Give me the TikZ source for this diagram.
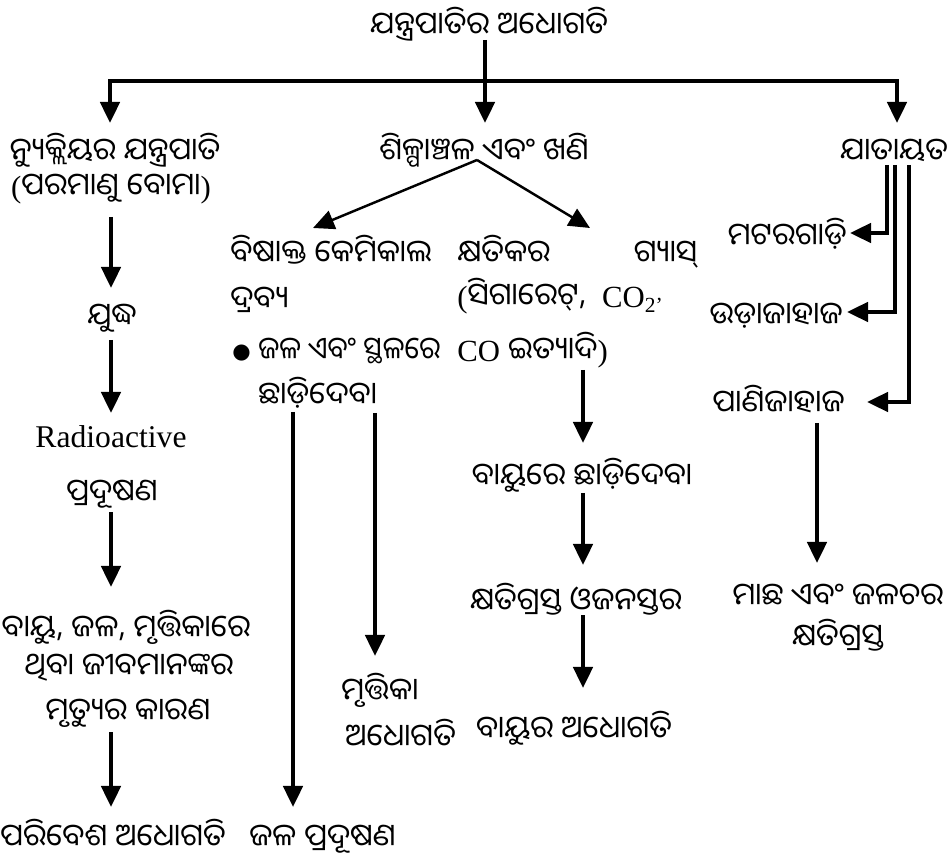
\documentclass[tikz,border=0pt]{standalone}
\usepackage{fontspec}
\usepackage{graphicx}
\setmainfont{Liberation Serif}
\newfontfamily\od[Script=Oriya]{Noto Sans Oriya UI}
\newfontfamily\symf{DejaVu Sans}
\usetikzlibrary{arrows.meta,calc}
\begin{document}
\begin{tikzpicture}[x=0.02cm,y=-0.02cm,
  txt/.style={font=\od\fontsize{17.5}{20}\selectfont, inner sep=0pt, anchor=base},
  txtw/.style={txt, anchor=base west},
  txte/.style={txt, anchor=base east},
  lat/.style={font=\fontsize{18}{20}\selectfont, inner sep=0pt, anchor=base},
  tip/.style={-{Triangle[width=11pt,length=12pt]}},
  arr/.style={line width=2.2pt, tip},
  varr/.style={line width=1.4pt, tip},
  ln/.style={line width=2.2pt}]
\useasboundingbox (0,0) rectangle (949,857);
% columns / hub coordinates
\coordinate (hubM) at (485,81);
\coordinate (hubL) at (110,81);
\coordinate (hubR) at (897,81);
\coordinate (cL) at (111,0);
\coordinate (cM) at (583,0);
\coordinate (cJ) at (293,0);
\coordinate (cS) at (375,0);
\coordinate (r1) at (887,0);
\coordinate (r2) at (895,0);
\coordinate (r3) at (909,0);
\coordinate (r4) at (817,0);
% nodes
\node[txt] (title) at (489,37) {ଯନ୍ତ୍ରପାତିର ଅଧୋଗତି};
\node[txt] (nuc) at (115,163) {ନ୍ୟୁକ୍ଲିୟର ଯନ୍ତ୍ରପାତି};
\node[txt] (ind) at (484,163) {ଶିଳ୍ପାଞ୍ଚଳ ଏବଂ ଖଣି};
\node[txt] (tra) at (894,163) {ଯାତାୟତ};
\node[txt] (bomb) at (111,198) {{\rmfamily(}ପରମାଣୁ ବୋମା{\rmfamily)}};
\node[txt] (yud) at (112,328) {ଯୁଦ୍ଧ};
\node[lat] (radio) at (111,448) {Radioactive};
\node[txt] (prad) at (112,503) {ପ୍ରଦୂଷଣ};
\node[txt] (bayu1) at (126,639) {ବାୟୁ, ଜଳ, ମୃତ୍ତିକାରେ};
\node[txt] (thiba) at (129,677) {ଥିବା ଜୀବମାନଙ୍କର};
\node[txt] (mrit) at (128,722) {ମୃତ୍ୟୁର କାରଣ};
\node[txt] (pari) at (113,848) {ପରିବେଶ ଅଧୋଗତି};
\node[txtw] (bis) at (230,265) {ବିଷାକ୍ତ କେମିକାଲ};
\node[txtw] (drab) at (230,311) {ଦ୍ରବ୍ୟ};
\node[txtw] (bul) at (232,362) {{\symf\fontsize{12}{12}\selectfont\raisebox{0.3ex}{●}}\hspace{0.25em}\scalebox{0.91}[1]{ଜଳ ଏବଂ ସ୍ଥଳରେ}};
\node[txtw] (chh) at (258,407) {ଛାଡ଼ିଦେବା};
\node[txtw] (mrd) at (341,702) {ମୃତ୍ତିକା};
\node[txtw] (adh) at (345,748) {ଅଧୋଗତି};
\node[txtw] (jal) at (249,848) {ଜଳ ପ୍ରଦୂଷଣ};
\node[txtw] (khy) at (457,265) {\makebox[4.8cm][s]{କ୍ଷତିକର ଗ୍ୟାସ୍}};
\node[txtw] (sig) at (457,308) {{\rmfamily(}ସିଗାରେଟ୍, \ {\rmfamily CO\textsubscript{2’}}};
\node[txtw] (co) at (457,362) {{\rmfamily CO} ଇତ୍ୟାଦି{\rmfamily)}};
\node[txt] (bre) at (582,487) {ବାୟୁରେ ଛାଡ଼ିଦେବା};
\node[txt] (oz) at (576,612) {କ୍ଷତିଗ୍ରସ୍ତ ଓଜନସ୍ତର};
\node[txt] (bad) at (574,740) {ବାୟୁର ଅଧୋଗତି};
\node[txte] (mot) at (847,248) {ମଟରଗାଡ଼ି};
\node[txte] (uda) at (843,327) {ଉଡ଼ାଜାହାଜ};
\node[txte] (pan) at (845,415) {ପାଣିଜାହାଜ};
\node[txt] (mac) at (838,607) {ମାଛ ଏବଂ ଜଳଚର};
\node[txt] (kg) at (838,648) {କ୍ଷତିଗ୍ରସ୍ତ};
% top tree
\draw[arr] ($(title.base -| hubM)+(0,3)$) -- ($(ind.base -| hubM)+(0,-40)$);
\draw[arr, line join=miter] (hubM) -- (hubL) -- ($(nuc.base -| hubL)+(0,-40)$);
\draw[arr, line join=miter] (hubM) -- (hubR) -- ($(tra.base -| hubR)+(0,-40)$);
% left column
\draw[arr] ($(bomb.base -| cL)+(0,19)$) -- ($(yud.base -| cL)+(0,-40)$);
\draw[arr] ($(yud.base -| cL)+(0,12)$) -- ($(radio.base -| cL)+(0,-35)$);
\draw[arr] ($(prad.base -| cL)+(0,9)$) -- ($(bayu1.base -| cL)+(0,-52)$);
\draw[arr] ($(mrit.base -| cL)+(0,10)$) -- ($(pari.base -| cL)+(0,-41)$);
% V from industry
\coordinate (apex) at ($(ind.base)+(-7,-3)$);
\draw[varr] (apex) -- ($(bis.base west)+(83,-37)$);
\draw[varr] (apex) -- ($(khy.base west)+(133,-37)$);
% middle left
\draw[arr] ($(chh.base -| cJ)+(0,5)$) -- ($(jal.base -| cJ)+(0,-41)$);
\draw[arr] ($(chh.base -| cS)+(0,6)$) -- ($(mrd.base -| cS)+(0,-46)$);
% middle right
\draw[arr] ($(co.base -| cM)+(0,8)$) -- ($(bre.base -| cM)+(0,-44)$);
\draw[arr] ($(bre.base -| cM)+(0,6)$) -- ($(oz.base -| cM)+(0,-47)$);
\draw[arr] ($(oz.base -| cM)+(0,3)$) -- ($(bad.base -| cM)+(0,-52)$);
% right column
\draw[arr, line join=miter] ($(tra.base -| r1)+(0,2)$) |- ($(mot.base east)+(3,-15)$);
\draw[arr, line join=miter] ($(tra.base -| r2)+(0,2)$) |- ($(uda.base east)+(4,-15)$);
\draw[arr, line join=miter] ($(tra.base -| r3)+(0,2)$) |- ($(pan.base east)+(22,-13)$);
\draw[arr] ($(pan.base -| r4)+(0,8)$) -- ($(mac.base -| r4)+(0,-44)$);
\end{tikzpicture}
\end{document}
